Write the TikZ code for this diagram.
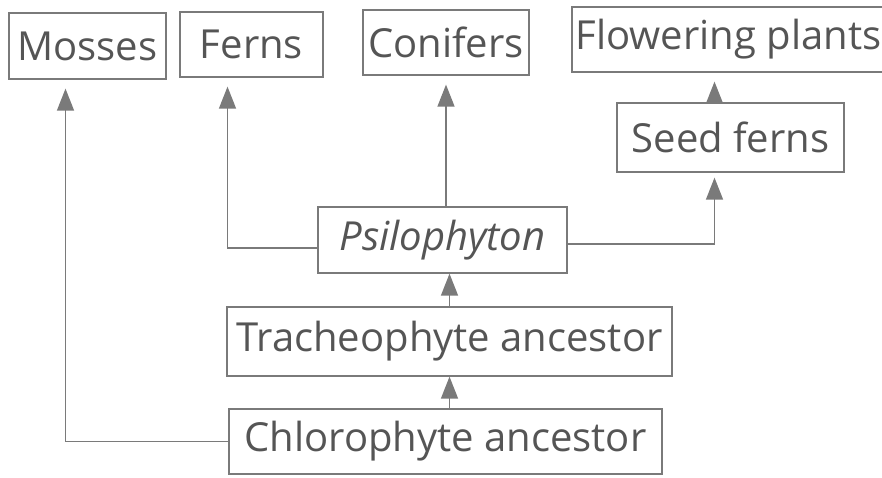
\documentclass[tikz,border=0pt]{standalone}
\usepackage{fontspec}
\setmainfont{Open Sans}
\usetikzlibrary{arrows.meta}
\definecolor{inkgray}{HTML}{555555}
\definecolor{linegray}{HTML}{7A7A7A}
\begin{document}
\begin{tikzpicture}[
  x=1pt, y=-1pt,
  every node/.style={draw=linegray, line width=1.3pt, inner sep=0pt, text=inkgray,
    font=\fontsize{40}{44}\selectfont},
  arr/.style={draw=linegray, line width=1.4pt, -{Triangle[length=22pt,width=17pt]}},
  gap/.style={shorten >=9pt}
]
  \useasboundingbox[fill=white] (0,0) rectangle (882,478);
  \node[minimum width=157pt, minimum height=66pt] (mosses) at (87.5,46) {Mosses};
  \node[minimum width=143pt, minimum height=65pt] (ferns) at (251.5,44.5) {Ferns};
  \node[minimum width=166pt, minimum height=65pt] (conifers) at (446,42.5) {Conifers};
  \node[minimum width=313pt, minimum height=65pt] (flowering) at (728.5,39.5) {Flowering plants};
  \node[minimum width=227pt, minimum height=69pt] (seedferns) at (730.5,137.5) {Seed ferns};
  \node[minimum width=249pt, minimum height=66pt] (psilo) at (442.5,240) {\itshape Psilophyton};
  \node[minimum width=445pt, minimum height=69pt] (trach) at (449.5,341.5) {Tracheophyte ancestor};
  \node[minimum width=433pt, minimum height=65pt] (chloro) at (445.5,441.5) {Chlorophyte ancestor};

  \draw[arr] (trach.south |- chloro.north) -- (trach.south);
  \draw[arr] (trach.north) -- (trach.north |- psilo.south);
  \draw[arr, gap] (chloro.west) -| ([xshift=-22pt]mosses.south);
  \draw[arr, gap] ([yshift=-8pt]psilo.west) -| ([xshift=-24pt]ferns.south);
  \draw[arr, gap] (conifers.south |- psilo.north) -- (conifers.south);
  \draw[arr, shorten >=5pt] ([yshift=-4pt]psilo.east) -| ([xshift=-16pt]seedferns.south);
  \draw[arr, gap] ([xshift=-16pt]seedferns.north) -- ([xshift=-16pt]seedferns.north |- flowering.south);
\end{tikzpicture}
\end{document}
